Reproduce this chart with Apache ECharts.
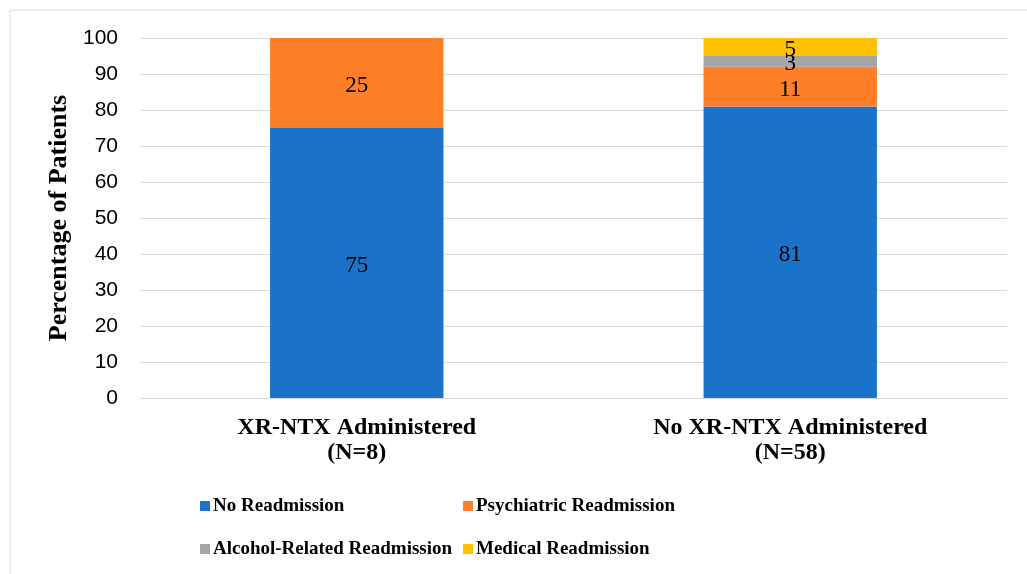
<!DOCTYPE html>
<html>
<head>
<meta charset="utf-8">
<script src="https://cdn.jsdelivr.net/npm/echarts@6/dist/echarts.min.js"></script>
<style>
  html, body { margin: 0; padding: 0; background: #fff; }
  #main { width: 1027px; height: 574px; }
</style>
</head>
<body>
<div id="main"></div>
<script>
// categories & values (percent of patients)
var categories = ['XR-NTX Administered\n(N=8)', 'No XR-NTX Administered\n(N=58)'];
var noReadmission = [75, 81];
var psychReadmission = [25, 11];
var alcoholReadmission = [0, 3];
var medicalReadmission = [0, 5];
var yTicks = { min: 0, max: 100, interval: 10 };

var serif = '"Liberation Serif", "Times New Roman", serif';

function seg(name, data, color) {
  return {
    name: name,
    type: 'bar',
    stack: 'total',
    barWidth: '40%',
    data: data,
    itemStyle: { color: color },
    label: {
      show: true,
      position: 'inside',
      offset: [0, 3],
      color: '#000',
      fontFamily: serif,
      fontSize: 23,
      formatter: function (p) { return p.value ? String(p.value) : ''; }, // 0 不显示
    },
  };
}

var legendText = { fontFamily: serif, fontWeight: 'bold', fontSize: 19, lineHeight: 22, color: '#000', padding: [0, 0, 0, -2] };

var chart = echarts.init(document.getElementById('main'));
chart.setOption({
  animation: false,
  graphic: [{
    type: 'rect',
    shape: { x: 10, y: 10, width: 1100, height: 1000 },
    style: { fill: 'none', stroke: '#d9d9d9', lineWidth: 1 },
    silent: true,
  }],
  grid: { left: 140, right: 20, top: 38, bottom: 176 },
  legend: [
    {
      orient: 'vertical',
      left: 195,
      top: 490,
      data: ['No Readmission', 'Alcohol-Related Readmission'],
      itemWidth: 10,
      itemHeight: 10,
      itemGap: 21,
      icon: 'rect',
      textStyle: legendText,
    },
    {
      orient: 'vertical',
      left: 458,
      top: 490,
      data: ['Psychiatric Readmission', 'Medical Readmission'],
      itemWidth: 10,
      itemHeight: 10,
      itemGap: 21,
      icon: 'rect',
      textStyle: legendText,
    },
  ],
  xAxis: {
    type: 'category',
    data: categories,
    axisLine: { lineStyle: { color: '#d9d9d9' } },
    axisTick: { show: false },
    axisLabel: {
      margin: 17,
      fontFamily: serif,
      fontWeight: 'bold',
      fontSize: 24,
      lineHeight: 25,
      color: '#000',
    },
  },
  yAxis: {
    type: 'value',
    min: yTicks.min,
    max: yTicks.max,
    interval: yTicks.interval,
    name: 'Percentage of Patients',
    nameLocation: 'middle',
    nameGap: 67,
    nameTextStyle: { fontFamily: serif, fontWeight: 'bold', fontSize: 26, color: '#000' },
    axisLine: { show: false },
    axisTick: { show: false },
    splitLine: { lineStyle: { color: '#d9d9d9', width: 1 } },
    axisLabel: {
      margin: 22,
      fontFamily: '"Liberation Sans", Arial, sans-serif',
      fontSize: 21,
      color: '#000',
    },
  },
  series: [
    seg('No Readmission', noReadmission, '#1a72c9'),
    seg('Psychiatric Readmission', psychReadmission, '#fe7f28'),
    seg('Alcohol-Related Readmission', alcoholReadmission, '#a5a5a5'),
    seg('Medical Readmission', medicalReadmission, '#ffc000'),
  ],
});
</script>
</body>
</html>
